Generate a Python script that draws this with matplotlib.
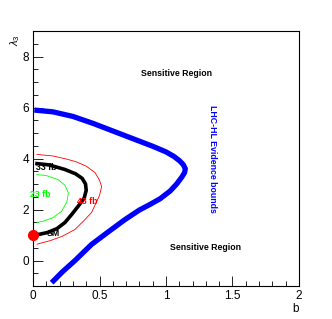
import matplotlib
matplotlib.use("Agg")
import matplotlib.pyplot as plt
from matplotlib.ticker import MultipleLocator

plt.rcParams['font.family'] = ['Liberation Sans', 'DejaVu Sans']
plt.rcParams['mathtext.fontset'] = 'custom'
plt.rcParams['mathtext.rm'] = 'Liberation Sans'
plt.rcParams['mathtext.it'] = 'Liberation Sans:italic'

# LHC-HL evidence bound (blue)
b_blue = [0.01, 0.15, 0.30, 0.45, 0.60, 0.75, 0.90, 1.00, 1.06, 1.10, 1.13, 1.145, 1.14, 1.12,
          1.08, 1.03, 0.955, 0.88, 0.80, 0.69, 0.56, 0.44, 0.32, 0.22, 0.14]
l_blue = [5.90, 5.83, 5.65, 5.38, 5.08, 4.78, 4.48, 4.26, 4.08, 3.92, 3.76, 3.60, 3.45, 3.28,
          3.00, 2.72, 2.42, 2.20, 1.98, 1.60, 1.10, 0.63, 0.02, -0.45, -0.87]

# 33 fb contour (black)
b_33 = [0.03, 0.12, 0.24, 0.32, 0.37, 0.395, 0.40, 0.385, 0.34, 0.29, 0.24, 0.18, 0.11, 0.05, 0.0]
l_33 = [3.80, 3.75, 3.57, 3.40, 3.22, 3.00, 2.75, 2.45, 2.13, 1.80, 1.49, 1.25, 1.10, 1.03, 1.0]

# 43 fb contour (red)
b_43 = [0.03, 0.15, 0.25, 0.32, 0.40, 0.466, 0.50, 0.516, 0.50, 0.44, 0.38, 0.316, 0.22, 0.13, 0.065, 0.03]
l_43 = [4.16, 4.10, 3.98, 3.88, 3.70, 3.45, 3.15, 2.90, 2.55, 1.88, 1.55, 1.22, 0.95, 0.78, 0.69, 0.64]

# 23 fb contour (green)
b_23 = [0.03, 0.10, 0.19, 0.24, 0.266, 0.255, 0.215, 0.15, 0.08, 0.03]
l_23 = [3.37, 3.33, 3.17, 2.95, 2.65, 2.30, 1.93, 1.68, 1.55, 1.49]

# Standard Model point
b_sm = [0.0]
l_sm = [1.0]

fig = plt.figure(figsize=(3.32, 3.19), dpi=100)
ax = fig.add_axes([0.0994, 0.1034, 0.8012, 0.7994])

ax.plot(b_blue, l_blue, color='#0000ff', lw=3.8, solid_capstyle='butt',
        solid_joinstyle='round', zorder=3)
ax.plot(b_43, l_43, color='#ff0000', lw=0.6, zorder=2)
ax.plot(b_23, l_23, color='#00ff00', lw=0.6, zorder=2)
ax.plot(b_33, l_33, color='black', lw=2.6, solid_joinstyle='round', zorder=3)
ax.plot(b_sm, l_sm, 'o', color='#ff0000', ms=7, clip_on=False, zorder=4)

ax.set_xlim(0, 2)
ax.set_ylim(-1, 9)

ax.xaxis.set_major_locator(MultipleLocator(0.5))
ax.xaxis.set_minor_locator(MultipleLocator(0.1))
ax.yaxis.set_major_locator(MultipleLocator(2))
ax.yaxis.set_minor_locator(MultipleLocator(0.5))
ax.xaxis.set_major_formatter(plt.FuncFormatter(lambda v, p: f"{v:g}"))
ax.tick_params(which='both', direction='in', top=False, right=False, labelsize=8.5,
               width=0.6, color='black')
ax.tick_params(which='major', length=7, pad=3)
ax.tick_params(which='minor', length=3.5)
for s in ax.spines.values():
    s.set_linewidth(0.8)

ax.text(1.0, -0.09, 'b', transform=ax.transAxes, ha='right', va='center', fontsize=8.5)
ax.text(-0.068, 0.965, r'$\lambda_3$', transform=ax.transAxes, ha='center', va='center',
        rotation=90, fontsize=8)

bold = dict(fontsize=6.3, fontweight='bold')
ax.text(1.08, 7.33, 'Sensitive Region', ha='center', va='center', **bold)
ax.text(1.30, 0.52, 'Sensitive Region', ha='center', va='center', **bold)
ax.text(1.35, 4.0, 'LHC-HL Evidence bounds', color='#0000ff', rotation=-90,
        ha='center', va='center', **bold)
ax.text(0.02, 3.63, '33 fb', color='black', ha='left', va='center', **bold)
ax.text(-0.02, 2.6, '23 fb', color='#00ff00', ha='left', va='center', **bold)
ax.text(0.33, 2.32, '43 fb', color='#ff0000', ha='left', va='center', **bold)
ax.text(0.10, 1.06, 'SM', color='black', ha='left', va='center', **bold)

fig.savefig('out.png', dpi=100)
